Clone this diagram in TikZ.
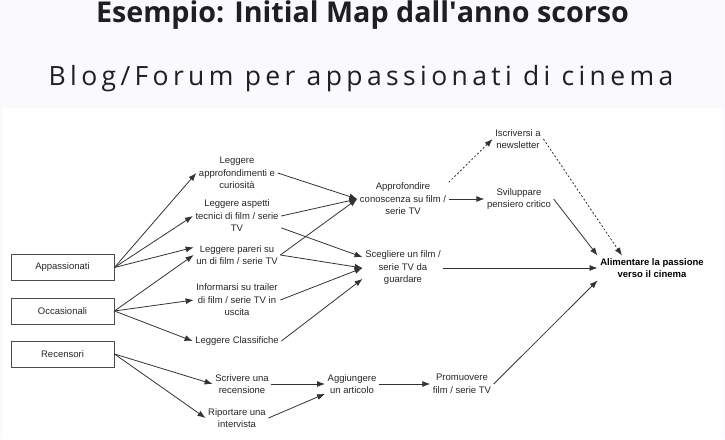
\documentclass[tikz,border=0pt]{standalone}
\usepackage{fontspec}
\setmainfont{Liberation Sans}
\newfontfamily\titlefont{Open Sans}
\newfontfamily\subfont[LetterSpace=16.5]{Open Sans}
\usetikzlibrary{arrows.meta}
\definecolor{linegray}{HTML}{333333}
\definecolor{bggray}{HTML}{FAFAFC}
\definecolor{titleink}{HTML}{1E1E24}
\tikzset{
  act/.style={align=center, font=\fontsize{9.5}{12.5}\selectfont, inner sep=2.5pt, text=black!85},
  actor/.style={draw=black!70, line width=0.9pt, minimum width=103pt, minimum height=26pt, font=\fontsize{9.5}{12}\selectfont, text=black!85},
  flow/.style={-{Latex[length=8pt,width=6pt]}, draw=linegray, line width=0.8pt},
  maybe/.style={flow, dash pattern=on 2pt off 2pt}
}
\begin{document}
\begin{tikzpicture}[x=1pt, y=-1pt]
      \fill[bggray] (0,0) rectangle (725,439);
      \fill[white] (2,108) rectangle (722,439);
      \useasboundingbox (0,0) rectangle (725,439);

      \node[anchor=base, font=\fontsize{28.7}{32}\titlefont\bfseries, text=titleink](t1) at (362.5,23) {Esempio: Initial Map dall\textquotesingle anno scorso};
      \node[anchor=base, font=\fontsize{26.5}{30}\subfont, text=titleink](t2) at (361,85) {Blog/Forum per appassionati di cinema};

      \node[actor](1) at (62.5,267.5) {Appassionati};
      \node[actor](2) at (62.5,311) {Occasionali};
      \node[actor](3) at (62.5,354) {Recensori};

      \node[act](4) at (237,173) {Leggere\\approfondimenti e\\curiosità};
      \node[act](5) at (237,216) {Leggere aspetti\\tecnici di film / serie\\TV};
      \node[act](6) at (237,255) {Leggere pareri su\\un di film / serie TV};
      \node[act](7) at (237,300) {Informarsi su trailer\\di film / serie TV in\\uscita};
      \node[act](8) at (237,341) {Leggere Classifiche};
      \node[act](9) at (242,384) {Scrivere una\\recensione};
      \node[act](10) at (237,418) {Riportare una\\intervista};

      \node[act](11) at (403,199) {Approfondire\\conoscenza su film /\\serie TV};
      \node[act](12) at (403,268) {Scegliere un film /\\serie TV da\\guardare};
      \node[act](13) at (352,384) {Aggiungere\\un articolo};
      \node[act](14) at (462,384) {Promuovere\\film / serie TV};

      \node[act](15) at (518,139) {Iscriversi a\\newsletter};
      \node[act](16) at (519,199) {Sviluppare\\pensiero critico};
      \node[act, font=\fontsize{9.5}{12.5}\selectfont\bfseries, text=black](17) at (652,268) {Alimentare la passione\\verso il cinema};

      \path[every edge/.append style={flow}]
      (1.east) edge (4.west)
      (1.east) edge (5.west)
      (1.east) edge (6.170)
      (2.east) edge (6.west)
      (2.east) edge (7.west)
      (2.east) edge (8.west)
      (3.east) edge (9.west)
      (3.east) edge (10.west)

      (4.east) edge (11.west)
      (5.east) edge (11.west)
      (5.-15) edge (12.165)
      (6.east) edge (11.west)
      (6.east) edge (12.west)
      (7.east) edge (12.west)
      (8.east) edge (12.-165)

      (9.east) edge (13.west)
      (10.east) edge (13.-160)
      (13.east) edge (14.west)
      (14.east) edge (17.south west)

      (11.east) edge (16.west)
      (16.east) edge (17.north west)
      (12.east) edge (17.west)
      ;
      \path[every edge/.append style={maybe}]
      (11.20) edge (15.west)
      (15.east) edge ([xshift=-30pt]17.north)
      ;
\end{tikzpicture}
\end{document}
